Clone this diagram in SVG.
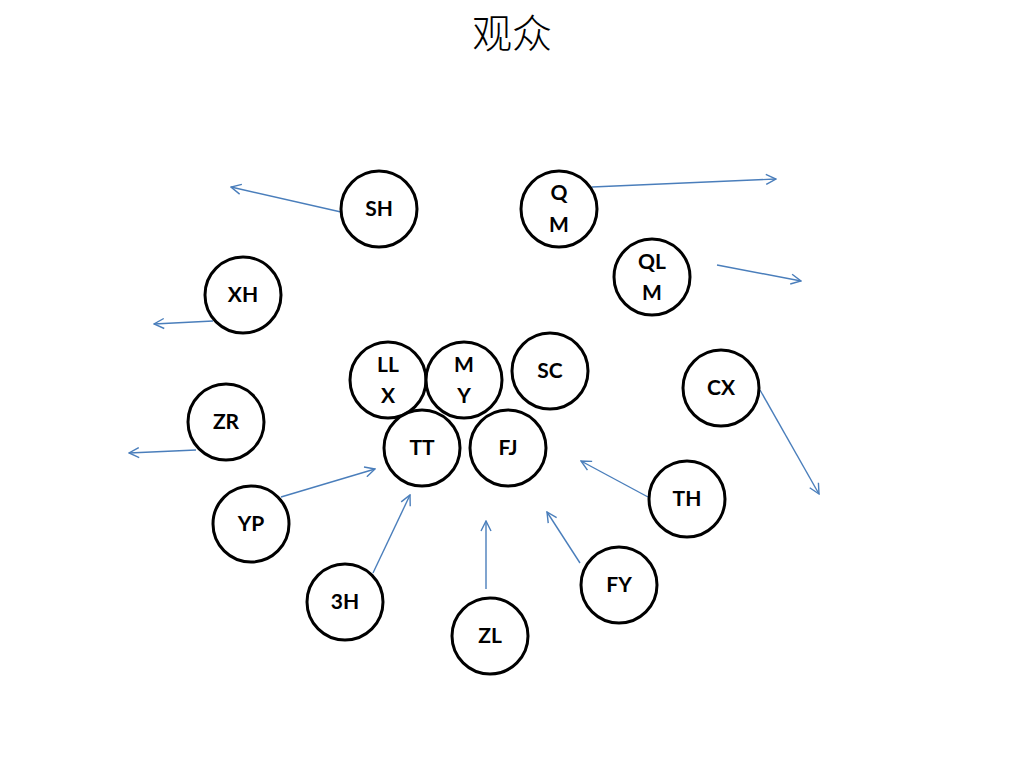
<svg xmlns="http://www.w3.org/2000/svg" width="1024" height="768" viewBox="0 0 1024 768">
<defs>
<marker id="arr" viewBox="0 0 12 12" refX="11" refY="6" markerWidth="12" markerHeight="12" markerUnits="userSpaceOnUse" orient="auto">
<path d="M1,1 L11,6 L1,11" fill="none" stroke="#4a7ebb" stroke-width="1.4"/>
</marker>
</defs>
<style>
.n circle{fill:#fff;stroke:#000;stroke-width:3}
.n text{font-family:Lato,"Open Sans","Liberation Sans",sans-serif;font-weight:bold;font-size:21px;fill:#000;text-anchor:middle}
.c line{stroke:#4a7ebb;stroke-width:1.4;marker-end:url(#arr)}
.t{font-family:"Noto Sans CJK SC",sans-serif;font-size:40px;font-weight:300;fill:#000;text-anchor:middle}
</style>
<rect width="1024" height="768" fill="#fff"/>
<text class="t" x="512" y="48">观众</text>
<g class="c" id="connectors">
<line x1="341" y1="212" x2="231" y2="187"/>
<line x1="592" y1="187" x2="776" y2="179"/>
<line x1="717" y1="265" x2="801" y2="281"/>
<line x1="213" y1="321" x2="154" y2="324"/>
<line x1="196" y1="450" x2="129" y2="453"/>
<line x1="760" y1="390" x2="819" y2="494"/>
<line x1="281" y1="497" x2="375" y2="469"/>
<line x1="373" y1="573" x2="410" y2="495"/>
<line x1="486" y1="589" x2="486" y2="521"/>
<line x1="580" y1="563" x2="547" y2="512"/>
<line x1="648" y1="497" x2="581" y2="461"/>
</g>
<g class="n" id="SH"><circle cx="379" cy="209" r="38"/><text x="379" y="216">SH</text></g>
<g class="n" id="QM"><circle cx="559" cy="209" r="38"/><text x="559" y="200">Q</text><text x="559" y="232">M</text></g>
<g class="n" id="QLM"><circle cx="652" cy="277" r="38"/><text x="652" y="269">QL</text><text x="652" y="300">M</text></g>
<g class="n" id="XH"><circle cx="243" cy="295" r="38"/><text x="243" y="302">XH</text></g>
<g class="n" id="LLX"><circle cx="388" cy="380" r="38"/><text x="388" y="372">LL</text><text x="388" y="403">X</text></g>
<g class="n" id="MY"><circle cx="464" cy="380" r="38"/><text x="464" y="372">M</text><text x="464" y="403">Y</text></g>
<g class="n" id="SC"><circle cx="550" cy="371" r="38"/><text x="550" y="378">SC</text></g>
<g class="n" id="CX"><circle cx="721" cy="388" r="38"/><text x="721" y="395">CX</text></g>
<g class="n" id="ZR"><circle cx="226" cy="422" r="38"/><text x="226" y="429">ZR</text></g>
<g class="n" id="TT"><circle cx="422" cy="448" r="38"/><text x="422" y="455">TT</text></g>
<g class="n" id="FJ"><circle cx="508" cy="448" r="38"/><text x="508" y="455">FJ</text></g>
<g class="n" id="TH"><circle cx="687" cy="499" r="38"/><text x="687" y="506">TH</text></g>
<g class="n" id="YP"><circle cx="251" cy="524" r="38"/><text x="251" y="531">YP</text></g>
<g class="n" id="FY"><circle cx="619" cy="585" r="38"/><text x="619" y="592">FY</text></g>
<g class="n" id="3H"><circle cx="345" cy="602" r="38"/><text x="345" y="609">3H</text></g>
<g class="n" id="ZL"><circle cx="490" cy="636" r="38"/><text x="490" y="643">ZL</text></g>
</svg>
